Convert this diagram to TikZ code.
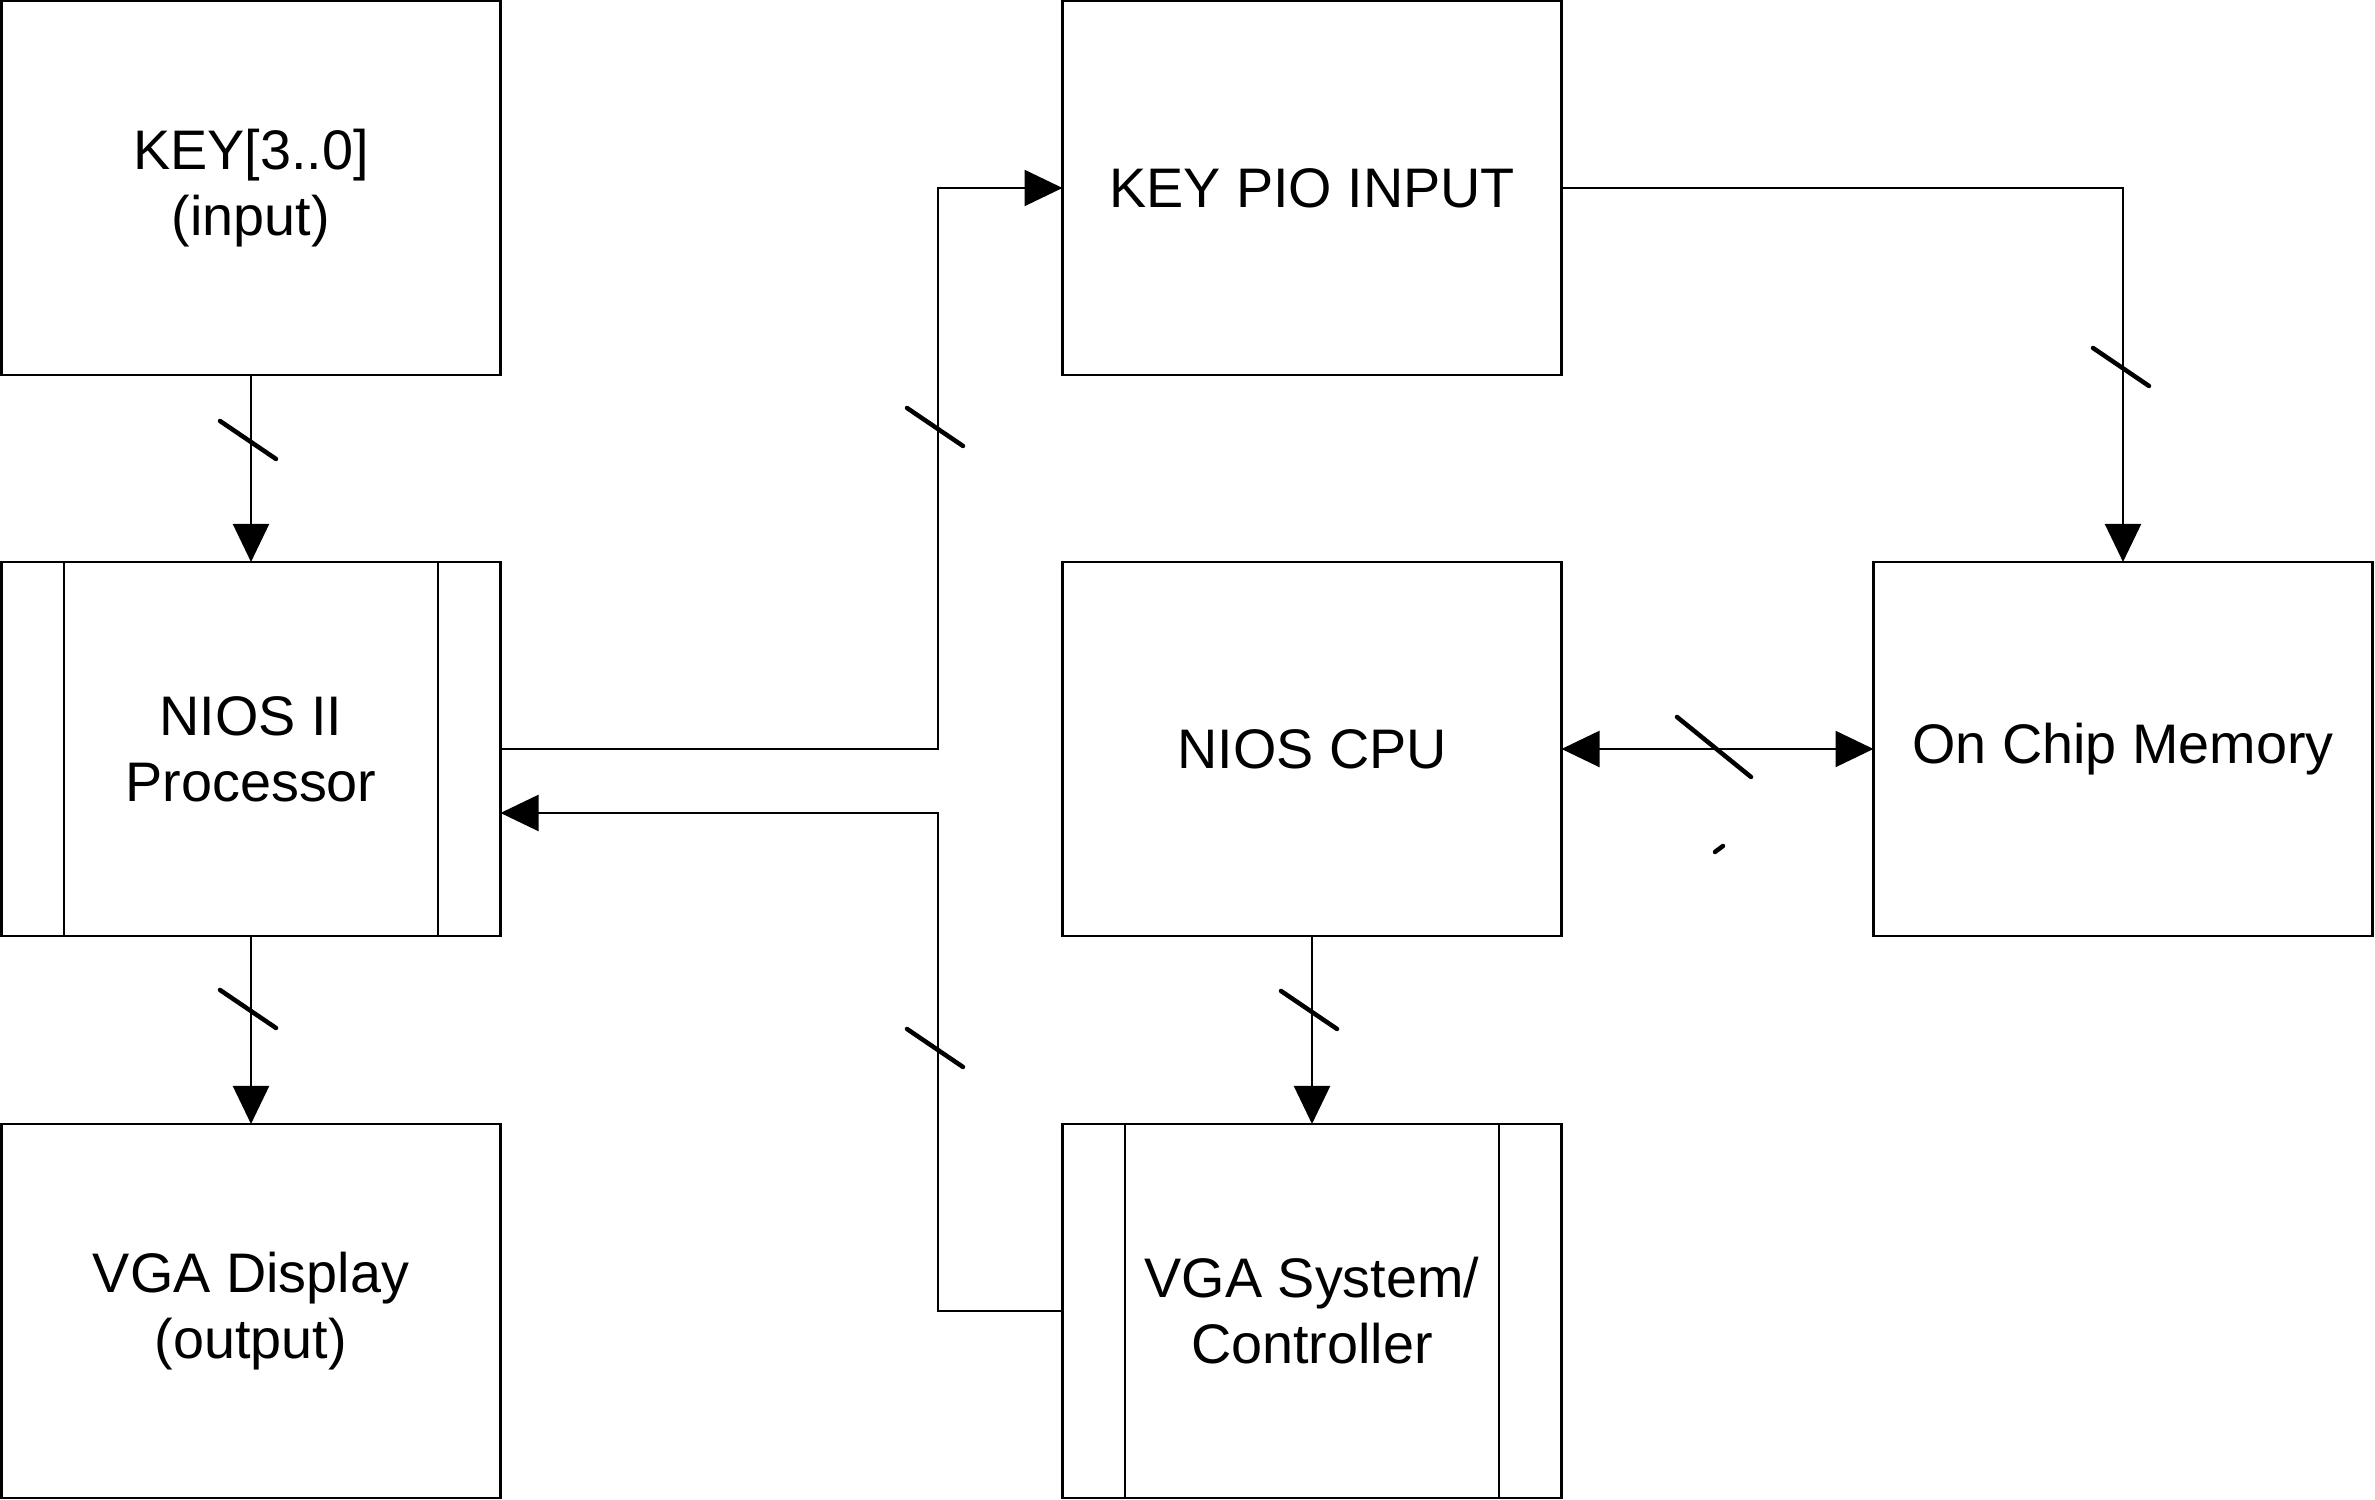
\documentclass[tikz,border=0pt]{standalone}
\usepackage{fontspec}
\setmainfont{Liberation Sans}
\usetikzlibrary{arrows.meta}
\begin{document}
\begin{tikzpicture}[x=0.2pt,y=-0.2pt,
  box/.style={draw,line width=0.45pt,minimum width=99.8pt,minimum height=74.8pt,
    inner sep=0pt,outer sep=0pt,align=center,font=\fontsize{11.15}{13.2}\selectfont},
  conn/.style={line width=0.45pt},
  tri/.tip={Triangle[length=7.6pt,width=7.2pt]},
  arr/.style={conn,-tri},
  slash/.style={line width=0.9pt,line cap=round}]
\useasboundingbox (0,0) rectangle (2375,1500);
% boxes
\node[box] (key)    at (251,188)   {KEY[3..0]\\(input)};
\node[box] (nios2)  at (251,749)   {NIOS II\\Processor};
\node[box] (vgad)   at (251,1311)  {VGA Display\\(output)};
\node[box] (keypio) at (1312,188)  {KEY PIO INPUT};
\node[box] (cpu)    at (1312,749)  {NIOS CPU};
\node[box] (vgas)   at (1312,1311) {VGA System/\\Controller};
\node[box] (mem)    at (2123,749)  {On Chip Memory};
% inner side bars
\foreach \n in {nios2,vgas}{
  \draw[conn] ([xshift=12.5pt]\n.north west) -- ([xshift=12.5pt]\n.south west);
  \draw[conn] ([xshift=-12.5pt]\n.north east) -- ([xshift=-12.5pt]\n.south east);
}
% connectors
\coordinate (ja) at (938,188);
\coordinate (jb) at (938,813);
\draw[arr] (key.south) -- (nios2.north);
\draw[arr] (nios2.south) -- (vgad.north);
\draw[arr] (nios2.east) -| (ja) -- (keypio.west);
\draw[arr] (vgas.west) -| (jb) -- (jb -| nios2.east);
\draw[arr] (keypio.east) -| (mem.north);
\draw[arr] (cpu.south) -- (vgas.north);
\draw[conn,tri-tri] (cpu.east) -- (mem.west);
% bus slashes
\draw[slash] (248,440)  +(-28,-19) -- +(28,19);
\draw[slash] (248,1009) +(-28,-19) -- +(28,19);
\draw[slash] (935,427)  +(-28,-19) -- +(28,19);
\draw[slash] (935,1048) +(-28,-19) -- +(28,19);
\draw[slash] (2121,367) +(-28,-19) -- +(28,19);
\draw[slash] (1309,1010) +(-28,-19) -- +(28,19);
\draw[slash] (1714,747) +(-37,-30) -- +(37,30);
\draw[slash] (1719,849) +(-4,3) -- +(4,-3);
\end{tikzpicture}
\end{document}
